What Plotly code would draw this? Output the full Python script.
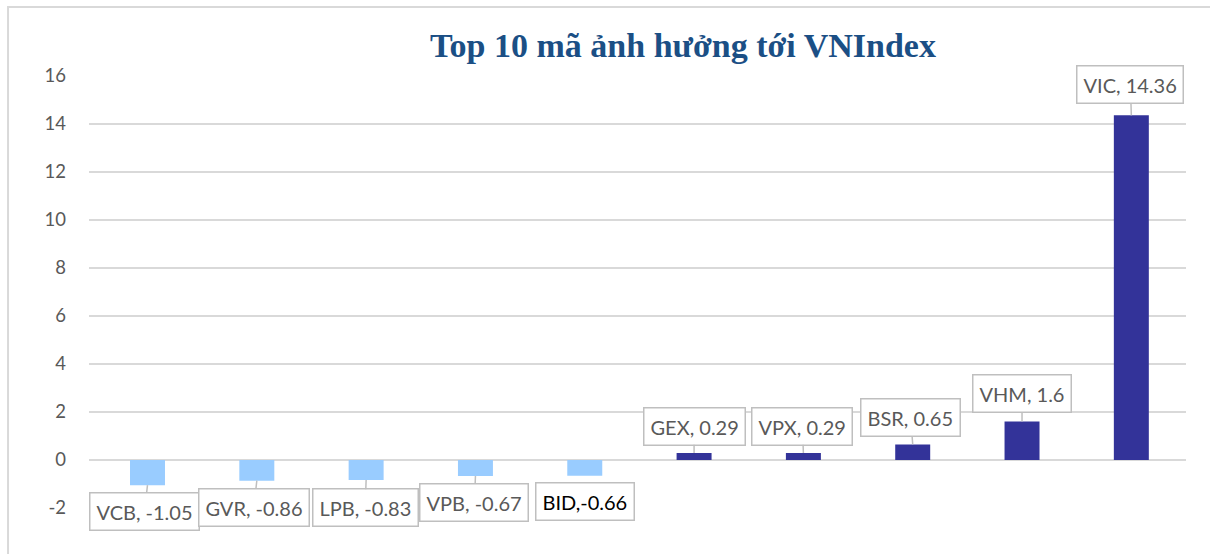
import plotly.graph_objects as go

tickers = ["VCB", "GVR", "LPB", "VPB", "BID", "GEX", "VPX", "BSR", "VHM", "VIC"]
values = [-1.05, -0.86, -0.83, -0.67, -0.66, 0.29, 0.29, 0.65, 1.6, 14.36]
labels = ["VCB, -1.05", "GVR, -0.86", "LPB, -0.83", "VPB, -0.67", "BID,-0.66",
          "GEX, 0.29", "VPX, 0.29", "BSR, 0.65", "VHM, 1.6", "VIC, 14.36"]
label_dx = [-3, -3, -1, -1, 0, 0, -1, -2, 0, -1]
label_dy = [26, 27, 28, 26, 26, -27, -27, -27, -28, -31]
y_ticks = [-2, 0, 2, 4, 6, 8, 10, 12, 14, 16]
y_tick_text = ["-2", "0", "2", "4", "6", "8", "10", "12", "14", "16"]

NEG = "#99CCFF"
POS = "#333399"
GRID = "#D9D9D9"
TXT = "#595959"
FONT = "Lato, Open Sans, sans-serif"

colors = [NEG if v < 0 else POS for v in values]

fig = go.Figure(go.Bar(x=tickers, y=values, marker=dict(color=colors, line=dict(width=0)),
                       hoverinfo="x+y"))

for i, (t, v, lab) in enumerate(zip(tickers, values, labels)):
    if t == "BID":
        fig.add_annotation(x=t, y=v, text=lab, showarrow=False, yshift=-label_dy[i],
                           xshift=label_dx[i],
                           font=dict(family=FONT, size=20, color="#000000"),
                           bgcolor="white", bordercolor="#BFBFBF", borderwidth=1.5, borderpad=6)
    else:
        fig.add_annotation(x=t, y=v, text=lab, showarrow=True, ax=label_dx[i], ay=label_dy[i],
                           arrowhead=0, arrowwidth=1.5, arrowcolor="#BFBFBF",
                           font=dict(family=FONT, size=20, color=TXT),
                           bgcolor="white", bordercolor="#BFBFBF", borderwidth=1.5, borderpad=6)

# outer chart border (left and top visible)
fig.add_shape(type="rect", xref="paper", yref="paper", x0=-0.0738, x1=1.12, y0=-0.25, y1=1.1597,
              line=dict(color=GRID, width=2), fillcolor="rgba(0,0,0,0)", layer="below")

fig.update_layout(
    width=1210, height=554,
    margin=dict(l=89, r=24, t=76, b=46),
    paper_bgcolor="white", plot_bgcolor="white",
    bargap=0.68,
    showlegend=False,
    title=dict(text="<b>Top 10 mã ảnh hưởng tới VNIndex</b>", xref="paper", yref="container",
               x=(683 - 89) / 1097, xanchor="center", y=1 - 45 / 554, yanchor="middle",
               font=dict(family="Liberation Serif, serif", size=34, color="#1B4F85")),
    xaxis=dict(showticklabels=False, showgrid=False, zeroline=False, showline=False,
               ticks=""),
    yaxis=dict(range=[-2, 16], tickvals=y_ticks, ticktext=y_tick_text,
               showgrid=True, gridcolor=GRID, gridwidth=1.5,
               zeroline=True, zerolinecolor=GRID, zerolinewidth=1.5, showline=False,
               ticks="", ticklabelstandoff=22,
               tickfont=dict(family=FONT, size=18.5, color=TXT)),
)

fig.write_html("out.html", config={"displayModeBar": False},
               post_script="document.body.style.margin='0';document.body.style.overflow='hidden';")
